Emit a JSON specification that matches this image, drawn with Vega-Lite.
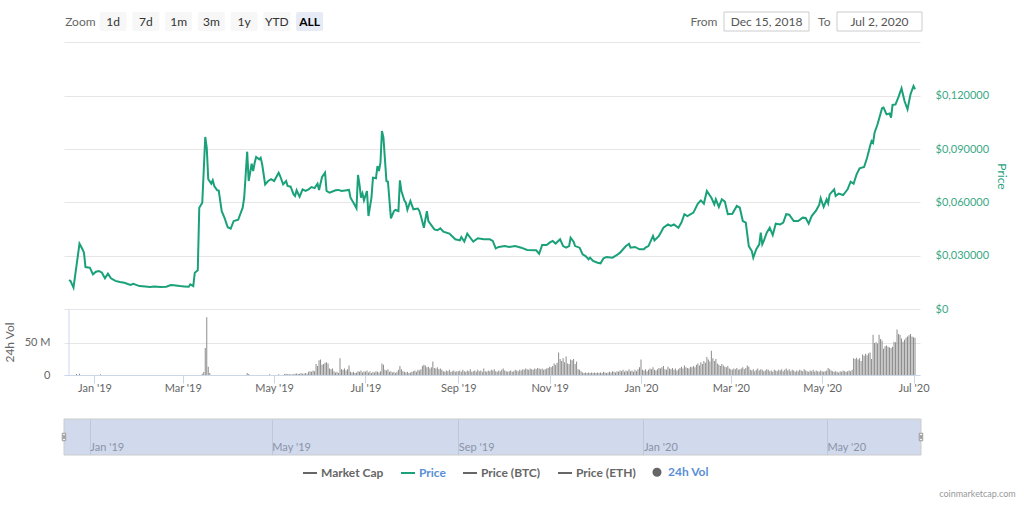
{
"$schema": "https://vega.github.io/schema/vega-lite/v6.json",
"background": "white",
"padding": {"left": 3, "top": 11, "right": 5, "bottom": 5},
"config": {"font": "Lato", "view": {"stroke": null}},
"datasets": {
"buttons": [
{"label":"Zoom","kind":"label"},{"label":"1d","kind":"button"},{"label":"7d","kind":"button"},{"label":"1m","kind":"button"},{"label":"3m","kind":"button"},{"label":"1y","kind":"button"},{"label":"YTD","kind":"button"},{"label":"ALL","kind":"active"}],
"inputs": [{"field":"From","value":"Dec 15, 2018"},{"field":"To","value":"Jul 2, 2020"}],
"range": [{"date":"2018-12-15","end":"2020-07-02"}],
"leftedge": [{"date":"2018-12-15"}],
"handles": [{"date":"2018-12-15"},{"date":"2020-07-02"}],
"price": [
{"date":"2018-12-15","price":0.0163},{"date":"2018-12-16","price":0.0158},{"date":"2018-12-18","price":0.0120},{"date":"2018-12-22","price":0.0367},{"date":"2018-12-24","price":0.0336},{"date":"2018-12-25","price":0.0317},{"date":"2018-12-26","price":0.0236},{"date":"2018-12-28","price":0.0234},{"date":"2018-12-29","price":0.0232},{"date":"2018-12-31","price":0.0195},
{"date":"2019-01-02","price":0.0210},{"date":"2019-01-04","price":0.0214},{"date":"2019-01-06","price":0.0204},{"date":"2019-01-08","price":0.0173},{"date":"2019-01-10","price":0.0199},{"date":"2019-01-12","price":0.0173},{"date":"2019-01-15","price":0.0158},{"date":"2019-01-18","price":0.0152},{"date":"2019-01-21","price":0.0148},{"date":"2019-01-25","price":0.0135},{"date":"2019-01-27","price":0.0142},{"date":"2019-01-31","price":0.0129},
{"date":"2019-02-04","price":0.0127},{"date":"2019-02-07","price":0.0124},{"date":"2019-02-10","price":0.0127},{"date":"2019-02-14","price":0.0124},{"date":"2019-02-18","price":0.0125},{"date":"2019-02-21","price":0.0135},{"date":"2019-02-23","price":0.0133},{"date":"2019-02-27","price":0.0129},
{"date":"2019-03-02","price":0.0127},{"date":"2019-03-05","price":0.0125},{"date":"2019-03-06","price":0.0139},{"date":"2019-03-08","price":0.0129},{"date":"2019-03-09","price":0.0204},{"date":"2019-03-11","price":0.0218},{"date":"2019-03-12","price":0.0570},{"date":"2019-03-14","price":0.0598},{"date":"2019-03-16","price":0.0968},{"date":"2019-03-17","price":0.0907},{"date":"2019-03-18","price":0.0730},{"date":"2019-03-20","price":0.0705},{"date":"2019-03-21","price":0.0724},{"date":"2019-03-22","price":0.0692},{"date":"2019-03-24","price":0.0668},{"date":"2019-03-25","price":0.0666},{"date":"2019-03-27","price":0.0550},{"date":"2019-03-29","price":0.0510},{"date":"2019-03-31","price":0.0460},
{"date":"2019-04-02","price":0.0452},{"date":"2019-04-04","price":0.0495},{"date":"2019-04-07","price":0.0502},{"date":"2019-04-10","price":0.0570},{"date":"2019-04-11","price":0.0626},{"date":"2019-04-13","price":0.0885},{"date":"2019-04-14","price":0.0720},{"date":"2019-04-16","price":0.0818},{"date":"2019-04-17","price":0.0776},{"date":"2019-04-18","price":0.0823},{"date":"2019-04-19","price":0.0855},{"date":"2019-04-21","price":0.0842},{"date":"2019-04-22","price":0.0851},{"date":"2019-04-23","price":0.0814},{"date":"2019-04-25","price":0.0701},{"date":"2019-04-27","price":0.0720},{"date":"2019-04-29","price":0.0730},
{"date":"2019-05-01","price":0.0720},{"date":"2019-05-04","price":0.0767},{"date":"2019-05-05","price":0.0748},{"date":"2019-05-07","price":0.0701},{"date":"2019-05-09","price":0.0720},{"date":"2019-05-10","price":0.0692},{"date":"2019-05-12","price":0.0688},{"date":"2019-05-14","price":0.0645},{"date":"2019-05-15","price":0.0636},{"date":"2019-05-16","price":0.0668},{"date":"2019-05-18","price":0.0632},{"date":"2019-05-20","price":0.0673},{"date":"2019-05-22","price":0.0664},{"date":"2019-05-24","price":0.0673},{"date":"2019-05-26","price":0.0686},{"date":"2019-05-28","price":0.0680},{"date":"2019-05-30","price":0.0705},{"date":"2019-05-31","price":0.0670},
{"date":"2019-06-02","price":0.0743},{"date":"2019-06-04","price":0.0767},{"date":"2019-06-05","price":0.0664},{"date":"2019-06-07","price":0.0654},{"date":"2019-06-11","price":0.0668},{"date":"2019-06-13","price":0.0670},{"date":"2019-06-15","price":0.0664},{"date":"2019-06-20","price":0.0670},{"date":"2019-06-21","price":0.0626},{"date":"2019-06-23","price":0.0598},{"date":"2019-06-25","price":0.0566},{"date":"2019-06-26","price":0.0754},{"date":"2019-06-27","price":0.0701},{"date":"2019-06-28","price":0.0626},{"date":"2019-06-29","price":0.0650},{"date":"2019-06-30","price":0.0611},
{"date":"2019-07-02","price":0.0664},{"date":"2019-07-03","price":0.0523},{"date":"2019-07-05","price":0.0626},{"date":"2019-07-06","price":0.0739},{"date":"2019-07-08","price":0.0735},{"date":"2019-07-09","price":0.0804},{"date":"2019-07-10","price":0.0776},{"date":"2019-07-11","price":0.0823},{"date":"2019-07-12","price":0.1001},{"date":"2019-07-13","price":0.0964},{"date":"2019-07-15","price":0.0720},{"date":"2019-07-16","price":0.0716},{"date":"2019-07-18","price":0.0510},{"date":"2019-07-20","price":0.0551},{"date":"2019-07-21","price":0.0557},{"date":"2019-07-23","price":0.0551},{"date":"2019-07-24","price":0.0724},{"date":"2019-07-25","price":0.0664},{"date":"2019-07-27","price":0.0610},{"date":"2019-07-28","price":0.0598},{"date":"2019-07-29","price":0.0558},{"date":"2019-07-31","price":0.0608},
{"date":"2019-08-02","price":0.0561},{"date":"2019-08-05","price":0.0565},{"date":"2019-08-06","price":0.0551},{"date":"2019-08-07","price":0.0523},{"date":"2019-08-09","price":0.0457},{"date":"2019-08-11","price":0.0551},{"date":"2019-08-12","price":0.0495},{"date":"2019-08-16","price":0.0448},{"date":"2019-08-18","price":0.0443},{"date":"2019-08-20","price":0.0454},{"date":"2019-08-22","price":0.0435},{"date":"2019-08-26","price":0.0424},{"date":"2019-08-30","price":0.0392},
{"date":"2019-09-02","price":0.0386},{"date":"2019-09-03","price":0.0405},{"date":"2019-09-05","price":0.0379},{"date":"2019-09-07","price":0.0424},{"date":"2019-09-09","price":0.0401},{"date":"2019-09-11","price":0.0379},{"date":"2019-09-14","price":0.0398},{"date":"2019-09-18","price":0.0392},{"date":"2019-09-22","price":0.0392},{"date":"2019-09-24","price":0.0383},{"date":"2019-09-26","price":0.0341},{"date":"2019-09-28","price":0.0349},
{"date":"2019-10-02","price":0.0354},{"date":"2019-10-05","price":0.0349},{"date":"2019-10-09","price":0.0354},{"date":"2019-10-13","price":0.0345},{"date":"2019-10-17","price":0.0332},{"date":"2019-10-23","price":0.0330},{"date":"2019-10-25","price":0.0311},{"date":"2019-10-27","price":0.0360},{"date":"2019-10-30","price":0.0360},
{"date":"2019-11-01","price":0.0373},{"date":"2019-11-03","price":0.0383},{"date":"2019-11-05","price":0.0368},{"date":"2019-11-08","price":0.0392},{"date":"2019-11-10","price":0.0354},{"date":"2019-11-12","price":0.0345},{"date":"2019-11-14","price":0.0354},{"date":"2019-11-15","price":0.0401},{"date":"2019-11-17","price":0.0379},{"date":"2019-11-18","price":0.0354},{"date":"2019-11-21","price":0.0345},{"date":"2019-11-23","price":0.0308},{"date":"2019-11-25","price":0.0298},{"date":"2019-11-27","price":0.0280},{"date":"2019-11-28","price":0.0289},{"date":"2019-11-30","price":0.0270},
{"date":"2019-12-03","price":0.0260},{"date":"2019-12-05","price":0.0257},{"date":"2019-12-07","price":0.0285},{"date":"2019-12-09","price":0.0293},{"date":"2019-12-13","price":0.0289},{"date":"2019-12-16","price":0.0304},{"date":"2019-12-18","price":0.0317},{"date":"2019-12-20","price":0.0336},{"date":"2019-12-22","price":0.0354},{"date":"2019-12-24","price":0.0367},{"date":"2019-12-25","price":0.0345},{"date":"2019-12-28","price":0.0349},{"date":"2019-12-31","price":0.0336},
{"date":"2020-01-03","price":0.0336},{"date":"2020-01-04","price":0.0345},{"date":"2020-01-06","price":0.0354},{"date":"2020-01-09","price":0.0411},{"date":"2020-01-10","price":0.0386},{"date":"2020-01-13","price":0.0411},{"date":"2020-01-16","price":0.0457},{"date":"2020-01-19","price":0.0476},{"date":"2020-01-21","price":0.0467},{"date":"2020-01-23","price":0.0476},{"date":"2020-01-26","price":0.0457},{"date":"2020-01-28","price":0.0486},{"date":"2020-01-30","price":0.0533},
{"date":"2020-02-01","price":0.0523},{"date":"2020-02-05","price":0.0542},{"date":"2020-02-08","price":0.0593},{"date":"2020-02-10","price":0.0611},{"date":"2020-02-12","price":0.0593},{"date":"2020-02-14","price":0.0664},{"date":"2020-02-17","price":0.0626},{"date":"2020-02-19","price":0.0589},{"date":"2020-02-20","price":0.0617},{"date":"2020-02-22","price":0.0574},{"date":"2020-02-24","price":0.0617},{"date":"2020-02-26","price":0.0604},{"date":"2020-02-28","price":0.0533},
{"date":"2020-03-02","price":0.0536},{"date":"2020-03-05","price":0.0580},{"date":"2020-03-07","price":0.0570},{"date":"2020-03-09","price":0.0495},{"date":"2020-03-11","price":0.0486},{"date":"2020-03-13","price":0.0354},{"date":"2020-03-15","price":0.0326},{"date":"2020-03-16","price":0.0289},{"date":"2020-03-18","price":0.0336},{"date":"2020-03-20","price":0.0364},{"date":"2020-03-21","price":0.0429},{"date":"2020-03-22","price":0.0364},{"date":"2020-03-23","price":0.0383},{"date":"2020-03-25","price":0.0429},{"date":"2020-03-27","price":0.0457},{"date":"2020-03-29","price":0.0416},{"date":"2020-03-31","price":0.0480},
{"date":"2020-04-03","price":0.0476},{"date":"2020-04-05","price":0.0486},{"date":"2020-04-07","price":0.0533},{"date":"2020-04-09","price":0.0530},{"date":"2020-04-12","price":0.0495},{"date":"2020-04-15","price":0.0495},{"date":"2020-04-18","price":0.0514},{"date":"2020-04-20","price":0.0512},{"date":"2020-04-22","price":0.0480},{"date":"2020-04-24","price":0.0523},{"date":"2020-04-27","price":0.0555},{"date":"2020-04-29","price":0.0585},{"date":"2020-04-30","price":0.0623},
{"date":"2020-05-02","price":0.0574},{"date":"2020-05-04","price":0.0617},{"date":"2020-05-05","price":0.0595},{"date":"2020-05-06","price":0.0645},{"date":"2020-05-09","price":0.0673},{"date":"2020-05-10","price":0.0636},{"date":"2020-05-12","price":0.0649},{"date":"2020-05-15","price":0.0641},{"date":"2020-05-18","price":0.0673},{"date":"2020-05-20","price":0.0716},{"date":"2020-05-22","price":0.0705},{"date":"2020-05-24","price":0.0758},{"date":"2020-05-26","price":0.0791},{"date":"2020-05-29","price":0.0799},{"date":"2020-05-31","price":0.0851},
{"date":"2020-06-02","price":0.0917},{"date":"2020-06-03","price":0.0945},{"date":"2020-06-04","price":0.0935},{"date":"2020-06-05","price":0.0992},{"date":"2020-06-07","price":0.1039},{"date":"2020-06-10","price":0.1129},{"date":"2020-06-11","price":0.1133},{"date":"2020-06-13","price":0.1095},{"date":"2020-06-15","price":0.1100},{"date":"2020-06-16","price":0.1076},{"date":"2020-06-17","price":0.1148},{"date":"2020-06-19","price":0.1151},{"date":"2020-06-21","price":0.1193},{"date":"2020-06-23","price":0.1241},{"date":"2020-06-25","price":0.1170},{"date":"2020-06-27","price":0.1123},{"date":"2020-06-29","price":0.1208},{"date":"2020-07-01","price":0.1254},{"date":"2020-07-02","price":0.1236}
],
"volume": [
{"date":"2018-12-20","vol_m":1.5},{"date":"2018-12-22","vol_m":2},{"date":"2019-01-05","vol_m":1.2},{"date":"2019-03-14","vol_m":2},{"date":"2019-03-15","vol_m":4.5},{"date":"2019-03-16","vol_m":42},{"date":"2019-03-17","vol_m":90},{"date":"2019-03-18","vol_m":13},{"date":"2019-03-19","vol_m":3},{"date":"2019-04-13","vol_m":3},{"date":"2019-04-14","vol_m":1.5},{"date":"2019-04-28","vol_m":1},{"date":"2019-05-04","vol_m":1},
{"date":"2019-05-08","vol_m":1.5},{"date":"2019-05-09","vol_m":2},{"date":"2019-05-10","vol_m":1},{"date":"2019-05-11","vol_m":1.5},{"date":"2019-05-12","vol_m":0.8},{"date":"2019-05-13","vol_m":1},{"date":"2019-05-14","vol_m":1.2},{"date":"2019-05-15","vol_m":2},{"date":"2019-05-16","vol_m":2.5},{"date":"2019-05-17","vol_m":1.5},{"date":"2019-05-18","vol_m":2},{"date":"2019-05-19","vol_m":3},{"date":"2019-05-20","vol_m":2},{"date":"2019-05-21","vol_m":2.5},{"date":"2019-05-22","vol_m":3},{"date":"2019-05-23","vol_m":2},{"date":"2019-05-24","vol_m":5},{"date":"2019-05-25","vol_m":6},{"date":"2019-05-26","vol_m":5},{"date":"2019-05-27","vol_m":7},{"date":"2019-05-28","vol_m":6},{"date":"2019-05-29","vol_m":17},{"date":"2019-05-30","vol_m":14},{"date":"2019-05-31","vol_m":23},
{"date":"2019-06-01","vol_m":24},{"date":"2019-06-02","vol_m":16},{"date":"2019-06-03","vol_m":17},{"date":"2019-06-04","vol_m":19},{"date":"2019-06-05","vol_m":20},{"date":"2019-06-06","vol_m":18},{"date":"2019-06-07","vol_m":10},{"date":"2019-06-08","vol_m":9},{"date":"2019-06-09","vol_m":10},{"date":"2019-06-10","vol_m":6},{"date":"2019-06-11","vol_m":4},{"date":"2019-06-12","vol_m":5},{"date":"2019-06-13","vol_m":3},{"date":"2019-06-14","vol_m":26},{"date":"2019-06-15","vol_m":9},{"date":"2019-06-16","vol_m":8},{"date":"2019-06-17","vol_m":10},{"date":"2019-06-18","vol_m":7},{"date":"2019-06-19","vol_m":9},{"date":"2019-06-20","vol_m":15},{"date":"2019-06-21","vol_m":5},{"date":"2019-06-22","vol_m":4},{"date":"2019-06-23","vol_m":5},{"date":"2019-06-24","vol_m":3},{"date":"2019-06-25","vol_m":4},{"date":"2019-06-26","vol_m":6},{"date":"2019-06-27","vol_m":5},{"date":"2019-06-28","vol_m":7},{"date":"2019-06-29","vol_m":4},{"date":"2019-06-30","vol_m":6},
{"date":"2019-07-01","vol_m":5},{"date":"2019-07-02","vol_m":7},{"date":"2019-07-03","vol_m":4},{"date":"2019-07-04","vol_m":6},{"date":"2019-07-05","vol_m":3},{"date":"2019-07-06","vol_m":5},{"date":"2019-07-07","vol_m":4},{"date":"2019-07-08","vol_m":6},{"date":"2019-07-09","vol_m":5},{"date":"2019-07-10","vol_m":4},{"date":"2019-07-11","vol_m":6},{"date":"2019-07-12","vol_m":18},{"date":"2019-07-13","vol_m":16},{"date":"2019-07-14","vol_m":8},{"date":"2019-07-15","vol_m":7},{"date":"2019-07-16","vol_m":9},{"date":"2019-07-17","vol_m":5},{"date":"2019-07-18","vol_m":6},{"date":"2019-07-19","vol_m":4},{"date":"2019-07-20","vol_m":5},{"date":"2019-07-21","vol_m":3},{"date":"2019-07-22","vol_m":5},{"date":"2019-07-23","vol_m":8},{"date":"2019-07-24","vol_m":14},{"date":"2019-07-25","vol_m":9},{"date":"2019-07-26","vol_m":6},{"date":"2019-07-27","vol_m":5},{"date":"2019-07-28","vol_m":4},{"date":"2019-07-29","vol_m":5},{"date":"2019-07-30","vol_m":3},{"date":"2019-07-31","vol_m":4},
{"date":"2019-08-01","vol_m":5},{"date":"2019-08-02","vol_m":6},{"date":"2019-08-03","vol_m":7},{"date":"2019-08-04","vol_m":5},{"date":"2019-08-05","vol_m":8},{"date":"2019-08-06","vol_m":7},{"date":"2019-08-07","vol_m":9},{"date":"2019-08-08","vol_m":14},{"date":"2019-08-09","vol_m":16},{"date":"2019-08-10","vol_m":15},{"date":"2019-08-11","vol_m":12},{"date":"2019-08-12","vol_m":13},{"date":"2019-08-13","vol_m":10},{"date":"2019-08-14","vol_m":12},{"date":"2019-08-15","vol_m":21},{"date":"2019-08-16","vol_m":11},{"date":"2019-08-17","vol_m":10},{"date":"2019-08-18","vol_m":12},{"date":"2019-08-19","vol_m":9},{"date":"2019-08-20","vol_m":10},{"date":"2019-08-21","vol_m":8},{"date":"2019-08-22","vol_m":6},{"date":"2019-08-23","vol_m":5},{"date":"2019-08-24","vol_m":7},{"date":"2019-08-25","vol_m":6},{"date":"2019-08-26","vol_m":8},{"date":"2019-08-27","vol_m":5},{"date":"2019-08-28","vol_m":6},{"date":"2019-08-29","vol_m":7},{"date":"2019-08-30","vol_m":5},{"date":"2019-08-31","vol_m":6},
{"date":"2019-09-01","vol_m":6},{"date":"2019-09-02","vol_m":7},{"date":"2019-09-03","vol_m":5},{"date":"2019-09-04","vol_m":8},{"date":"2019-09-05","vol_m":6},{"date":"2019-09-06","vol_m":5},{"date":"2019-09-07","vol_m":7},{"date":"2019-09-08","vol_m":6},{"date":"2019-09-09","vol_m":9},{"date":"2019-09-10","vol_m":5},{"date":"2019-09-11","vol_m":6},{"date":"2019-09-12","vol_m":7},{"date":"2019-09-13","vol_m":5},{"date":"2019-09-14","vol_m":8},{"date":"2019-09-15","vol_m":6},{"date":"2019-09-16","vol_m":7},{"date":"2019-09-17","vol_m":5},{"date":"2019-09-18","vol_m":10},{"date":"2019-09-19","vol_m":6},{"date":"2019-09-20","vol_m":5},{"date":"2019-09-21","vol_m":7},{"date":"2019-09-22","vol_m":6},{"date":"2019-09-23","vol_m":8},{"date":"2019-09-24","vol_m":7},{"date":"2019-09-25","vol_m":9},{"date":"2019-09-26","vol_m":6},{"date":"2019-09-27","vol_m":5},{"date":"2019-09-28","vol_m":7},{"date":"2019-09-29","vol_m":6},{"date":"2019-09-30","vol_m":8},
{"date":"2019-10-01","vol_m":10},{"date":"2019-10-02","vol_m":7},{"date":"2019-10-03","vol_m":6},{"date":"2019-10-04","vol_m":5},{"date":"2019-10-05","vol_m":6},{"date":"2019-10-06","vol_m":7},{"date":"2019-10-07","vol_m":5},{"date":"2019-10-08","vol_m":6},{"date":"2019-10-09","vol_m":8},{"date":"2019-10-10","vol_m":7},{"date":"2019-10-11","vol_m":6},{"date":"2019-10-12","vol_m":8},{"date":"2019-10-13","vol_m":7},{"date":"2019-10-14","vol_m":9},{"date":"2019-10-15","vol_m":8},{"date":"2019-10-16","vol_m":10},{"date":"2019-10-17","vol_m":9},{"date":"2019-10-18","vol_m":8},{"date":"2019-10-19","vol_m":10},{"date":"2019-10-20","vol_m":9},{"date":"2019-10-21","vol_m":8},{"date":"2019-10-22","vol_m":10},{"date":"2019-10-23","vol_m":9},{"date":"2019-10-24","vol_m":11},{"date":"2019-10-25","vol_m":10},{"date":"2019-10-26","vol_m":9},{"date":"2019-10-27","vol_m":10},{"date":"2019-10-28","vol_m":8},{"date":"2019-10-29","vol_m":9},{"date":"2019-10-30","vol_m":10},{"date":"2019-10-31","vol_m":11},
{"date":"2019-11-01","vol_m":13},{"date":"2019-11-02","vol_m":12},{"date":"2019-11-03","vol_m":14},{"date":"2019-11-04","vol_m":18},{"date":"2019-11-05","vol_m":16},{"date":"2019-11-06","vol_m":19},{"date":"2019-11-07","vol_m":35},{"date":"2019-11-08","vol_m":25},{"date":"2019-11-09","vol_m":22},{"date":"2019-11-10","vol_m":26},{"date":"2019-11-11","vol_m":20},{"date":"2019-11-12","vol_m":29},{"date":"2019-11-13","vol_m":18},{"date":"2019-11-14","vol_m":17},{"date":"2019-11-15","vol_m":24},{"date":"2019-11-16","vol_m":23},{"date":"2019-11-17","vol_m":25},{"date":"2019-11-18","vol_m":17},{"date":"2019-11-19","vol_m":21},{"date":"2019-11-20","vol_m":9},{"date":"2019-11-21","vol_m":8},{"date":"2019-11-22","vol_m":6},{"date":"2019-11-23","vol_m":4},{"date":"2019-11-24","vol_m":3},{"date":"2019-11-25","vol_m":4},{"date":"2019-11-26","vol_m":3},{"date":"2019-11-27","vol_m":4},{"date":"2019-11-28","vol_m":3},{"date":"2019-11-29","vol_m":4},{"date":"2019-11-30","vol_m":3},
{"date":"2019-12-01","vol_m":4},{"date":"2019-12-02","vol_m":3},{"date":"2019-12-03","vol_m":4},{"date":"2019-12-04","vol_m":3},{"date":"2019-12-05","vol_m":4},{"date":"2019-12-06","vol_m":3},{"date":"2019-12-07","vol_m":5},{"date":"2019-12-08","vol_m":4},{"date":"2019-12-09","vol_m":3},{"date":"2019-12-10","vol_m":4},{"date":"2019-12-11","vol_m":5},{"date":"2019-12-12","vol_m":4},{"date":"2019-12-13","vol_m":6},{"date":"2019-12-14","vol_m":5},{"date":"2019-12-15","vol_m":4},{"date":"2019-12-16","vol_m":6},{"date":"2019-12-17","vol_m":5},{"date":"2019-12-18","vol_m":7},{"date":"2019-12-19","vol_m":6},{"date":"2019-12-20","vol_m":8},{"date":"2019-12-21","vol_m":5},{"date":"2019-12-22","vol_m":7},{"date":"2019-12-23","vol_m":6},{"date":"2019-12-24","vol_m":9},{"date":"2019-12-25","vol_m":6},{"date":"2019-12-26","vol_m":7},{"date":"2019-12-27","vol_m":5},{"date":"2019-12-28","vol_m":8},{"date":"2019-12-29","vol_m":6},{"date":"2019-12-30","vol_m":9},{"date":"2019-12-31","vol_m":12},
{"date":"2020-01-01","vol_m":24},{"date":"2020-01-02","vol_m":8},{"date":"2020-01-03","vol_m":7},{"date":"2020-01-04","vol_m":9},{"date":"2020-01-05","vol_m":6},{"date":"2020-01-06","vol_m":8},{"date":"2020-01-07","vol_m":10},{"date":"2020-01-08","vol_m":9},{"date":"2020-01-09","vol_m":12},{"date":"2020-01-10","vol_m":8},{"date":"2020-01-11","vol_m":7},{"date":"2020-01-12","vol_m":9},{"date":"2020-01-13","vol_m":11},{"date":"2020-01-14","vol_m":10},{"date":"2020-01-15","vol_m":12},{"date":"2020-01-16","vol_m":14},{"date":"2020-01-17","vol_m":9},{"date":"2020-01-18","vol_m":8},{"date":"2020-01-19","vol_m":13},{"date":"2020-01-20","vol_m":10},{"date":"2020-01-21","vol_m":9},{"date":"2020-01-22","vol_m":11},{"date":"2020-01-23","vol_m":8},{"date":"2020-01-24","vol_m":10},{"date":"2020-01-25","vol_m":7},{"date":"2020-01-26","vol_m":9},{"date":"2020-01-27","vol_m":11},{"date":"2020-01-28","vol_m":13},{"date":"2020-01-29","vol_m":10},{"date":"2020-01-30","vol_m":15},{"date":"2020-01-31","vol_m":12},
{"date":"2020-02-01","vol_m":11},{"date":"2020-02-02","vol_m":10},{"date":"2020-02-03","vol_m":13},{"date":"2020-02-04","vol_m":12},{"date":"2020-02-05","vol_m":14},{"date":"2020-02-06","vol_m":12},{"date":"2020-02-07","vol_m":16},{"date":"2020-02-08","vol_m":18},{"date":"2020-02-09","vol_m":15},{"date":"2020-02-10","vol_m":20},{"date":"2020-02-11","vol_m":17},{"date":"2020-02-12","vol_m":22},{"date":"2020-02-13","vol_m":19},{"date":"2020-02-14","vol_m":28},{"date":"2020-02-15","vol_m":24},{"date":"2020-02-16","vol_m":21},{"date":"2020-02-17","vol_m":38},{"date":"2020-02-18","vol_m":26},{"date":"2020-02-19","vol_m":22},{"date":"2020-02-20","vol_m":25},{"date":"2020-02-21","vol_m":18},{"date":"2020-02-22","vol_m":16},{"date":"2020-02-23","vol_m":14},{"date":"2020-02-24","vol_m":17},{"date":"2020-02-25","vol_m":15},{"date":"2020-02-26","vol_m":13},{"date":"2020-02-27","vol_m":12},{"date":"2020-02-28","vol_m":14},{"date":"2020-02-29","vol_m":10},
{"date":"2020-03-01","vol_m":9},{"date":"2020-03-02","vol_m":8},{"date":"2020-03-03","vol_m":10},{"date":"2020-03-04","vol_m":9},{"date":"2020-03-05","vol_m":11},{"date":"2020-03-06","vol_m":8},{"date":"2020-03-07","vol_m":9},{"date":"2020-03-08","vol_m":10},{"date":"2020-03-09","vol_m":12},{"date":"2020-03-10","vol_m":9},{"date":"2020-03-11","vol_m":11},{"date":"2020-03-12","vol_m":15},{"date":"2020-03-13","vol_m":13},{"date":"2020-03-14","vol_m":8},{"date":"2020-03-15","vol_m":7},{"date":"2020-03-16","vol_m":9},{"date":"2020-03-17","vol_m":6},{"date":"2020-03-18","vol_m":8},{"date":"2020-03-19","vol_m":10},{"date":"2020-03-20","vol_m":7},{"date":"2020-03-21","vol_m":9},{"date":"2020-03-22","vol_m":8},{"date":"2020-03-23","vol_m":6},{"date":"2020-03-24","vol_m":7},{"date":"2020-03-25","vol_m":9},{"date":"2020-03-26","vol_m":8},{"date":"2020-03-27","vol_m":6},{"date":"2020-03-28","vol_m":7},{"date":"2020-03-29","vol_m":5},{"date":"2020-03-30","vol_m":8},{"date":"2020-03-31","vol_m":7},
{"date":"2020-04-01","vol_m":6},{"date":"2020-04-02","vol_m":8},{"date":"2020-04-03","vol_m":7},{"date":"2020-04-04","vol_m":9},{"date":"2020-04-05","vol_m":6},{"date":"2020-04-06","vol_m":8},{"date":"2020-04-07","vol_m":10},{"date":"2020-04-08","vol_m":7},{"date":"2020-04-09","vol_m":9},{"date":"2020-04-10","vol_m":6},{"date":"2020-04-11","vol_m":8},{"date":"2020-04-12","vol_m":7},{"date":"2020-04-13","vol_m":5},{"date":"2020-04-14","vol_m":7},{"date":"2020-04-15","vol_m":6},{"date":"2020-04-16","vol_m":8},{"date":"2020-04-17","vol_m":7},{"date":"2020-04-18","vol_m":6},{"date":"2020-04-19","vol_m":9},{"date":"2020-04-20","vol_m":7},{"date":"2020-04-21","vol_m":6},{"date":"2020-04-22","vol_m":5},{"date":"2020-04-23","vol_m":7},{"date":"2020-04-24","vol_m":6},{"date":"2020-04-25","vol_m":8},{"date":"2020-04-26","vol_m":5},{"date":"2020-04-27","vol_m":7},{"date":"2020-04-28","vol_m":6},{"date":"2020-04-29","vol_m":5},{"date":"2020-04-30","vol_m":7},
{"date":"2020-05-01","vol_m":6},{"date":"2020-05-02","vol_m":5},{"date":"2020-05-03","vol_m":6},{"date":"2020-05-04","vol_m":7},{"date":"2020-05-05","vol_m":11},{"date":"2020-05-06","vol_m":9},{"date":"2020-05-07","vol_m":7},{"date":"2020-05-08","vol_m":6},{"date":"2020-05-09","vol_m":5},{"date":"2020-05-10","vol_m":6},{"date":"2020-05-11","vol_m":5},{"date":"2020-05-12","vol_m":4},{"date":"2020-05-13","vol_m":6},{"date":"2020-05-14","vol_m":5},{"date":"2020-05-15","vol_m":7},{"date":"2020-05-16","vol_m":6},{"date":"2020-05-17","vol_m":5},{"date":"2020-05-18","vol_m":6},{"date":"2020-05-19","vol_m":7},{"date":"2020-05-20","vol_m":6},{"date":"2020-05-21","vol_m":8},{"date":"2020-05-22","vol_m":26},{"date":"2020-05-23","vol_m":25},{"date":"2020-05-24","vol_m":27},{"date":"2020-05-25","vol_m":24},{"date":"2020-05-26","vol_m":26},{"date":"2020-05-27","vol_m":22},{"date":"2020-05-28","vol_m":32},{"date":"2020-05-29","vol_m":30},{"date":"2020-05-30","vol_m":33},{"date":"2020-05-31","vol_m":31},
{"date":"2020-06-01","vol_m":34},{"date":"2020-06-02","vol_m":35},{"date":"2020-06-03","vol_m":25},{"date":"2020-06-04","vol_m":63},{"date":"2020-06-05","vol_m":50},{"date":"2020-06-06","vol_m":51},{"date":"2020-06-07","vol_m":49},{"date":"2020-06-08","vol_m":63},{"date":"2020-06-09","vol_m":56},{"date":"2020-06-10","vol_m":54},{"date":"2020-06-11","vol_m":41},{"date":"2020-06-12","vol_m":45},{"date":"2020-06-13","vol_m":46},{"date":"2020-06-14","vol_m":44},{"date":"2020-06-15","vol_m":43},{"date":"2020-06-16","vol_m":42},{"date":"2020-06-17","vol_m":44},{"date":"2020-06-18","vol_m":52},{"date":"2020-06-19","vol_m":51},{"date":"2020-06-20","vol_m":71},{"date":"2020-06-21","vol_m":64},{"date":"2020-06-22","vol_m":63},{"date":"2020-06-23","vol_m":57},{"date":"2020-06-24","vol_m":52},{"date":"2020-06-25","vol_m":55},{"date":"2020-06-26","vol_m":58},{"date":"2020-06-27","vol_m":60},{"date":"2020-06-28","vol_m":62},{"date":"2020-06-29","vol_m":64},{"date":"2020-06-30","vol_m":60},
{"date":"2020-07-01","vol_m":59},{"date":"2020-07-02","vol_m":58}
]
},
"resolve": {"scale": {"color": "independent", "fill": "independent"}, "legend": {"color": "independent", "fill": "independent"}},
"bounds": "flush",
"spacing": 11,
"vconcat": [
{
"width": 872, "height": 19,
"resolve": {"scale": {"x": "independent"}},
"layer": [
{
"data": {"name": "buttons"},
"encoding": {"x": {"field": "label", "type": "nominal", "sort": null, "axis": null, "scale": {"paddingInner": 0, "paddingOuter": 0, "range": [0, 262]}}},
"layer": [
{"mark": {"type": "bar", "width": 27, "cornerRadius": 2},
 "encoding": {"fill": {"field": "kind", "type": "nominal", "scale": {"domain": ["label", "button", "active"], "range": ["#ffffff", "#f7f7f7", "#e6ebf5"]}, "legend": null}}},
{"transform": [{"filter": "datum.kind !== 'active'"}],
 "mark": {"type": "text", "fontSize": 12},
 "encoding": {"text": {"field": "label"}, "color": {"field": "kind", "type": "nominal", "scale": {"domain": ["label", "button"], "range": ["#666666", "#333333"]}, "legend": null}}},
{"transform": [{"filter": "datum.kind === 'active'"}],
 "mark": {"type": "text", "fontSize": 12, "fontWeight": "bold", "color": "#000000"},
 "encoding": {"text": {"field": "label"}}}
]
},
{
"data": {"name": "inputs"},
"encoding": {"x": {"field": "field", "type": "nominal", "sort": null, "axis": null, "scale": {"paddingInner": 0, "paddingOuter": 0, "range": [646, 872]}}},
"layer": [
{"mark": {"type": "bar", "width": 85, "fill": "#ffffff", "stroke": "#cccccc", "strokeWidth": 1}},
{"mark": {"type": "text", "fontSize": 12, "color": "#555555"}, "encoding": {"text": {"field": "value"}}},
{"mark": {"type": "text", "fontSize": 12, "color": "#666666", "align": "right", "dx": -49}, "encoding": {"text": {"field": "field"}}}
]
}
]
},
{
"width": 856, "height": 333,
"encoding": {"x": {"field": "date", "type": "temporal",
 "scale": {"type": "utc", "domain": [{"year": 2018, "month": 12, "date": 15, "utc": true}, {"year": 2020, "month": 7, "date": 2, "utc": true}]},
 "axis": {"orient": "bottom", "format": "%b '%y", "tickCount": {"interval": "month", "step": 2}, "title": null,
  "labelColor": "#666666", "labelFontSize": 11, "labelPadding": -1, "labelFlush": false, "labelOverlap": false,
  "ticks": true, "tickColor": "#ccd6eb", "tickSize": 8, "domainColor": "#ccd6eb", "grid": false}}},
"resolve": {"scale": {"y": "independent"}, "axis": {"y": "independent"}},
"layer": [
{
"data": {"name": "price"},
"mark": {"type": "line", "strokeWidth": 2, "interpolate": "linear"},
"encoding": {
"y": {"field": "price", "type": "quantitative", "scale": {"domain": [-0.037125, 0.1502], "nice": false, "zero": false},
 "axis": {"orient": "right", "values": [0, 0.03, 0.06, 0.09, 0.12, 0.15],
  "labelExpr": "datum.value > 0.14 ? '' : datum.value === 0 ? '$0' : '$' + replace(format(datum.value, '.6f'), '.', ',')",
  "title": "Price", "titleColor": "#1f9f7c", "titleFontWeight": "normal", "titleFontSize": 12, "titlePadding": 6, "titleY": 134,
  "labelColor": "#3aa886", "labelFontSize": 11, "labelPadding": 15,
  "domain": false, "ticks": false, "grid": true, "gridColor": "#e6e6e6"}},
"color": {"datum": "Price",
 "scale": {"domain": ["Market Cap", "Price", "Price (BTC)", "Price (ETH)", "24h Vol"], "range": ["#666666", "#1aa179", "#666666", "#666666", "#666666"]},
 "legend": {"orient": "none", "legendX": 238, "legendY": 422, "direction": "horizontal", "title": null, "padding": 0,
  "labelFontSize": 12, "labelFontWeight": "bold", "labelColor": "#666666", "labelOffset": 3, "columnPadding": 13,
  "symbolType": "stroke", "symbolSize": 196, "symbolStrokeWidth": 2, "labelLimit": 300,
  "encode": {
   "labels": {"update": {"fill": {"signal": "datum.value === 'Price' || datum.value === '24h Vol' ? '#5a8ed6' : '#666666'"}}},
   "symbols": {"update": {
     "shape": {"signal": "datum.value === '24h Vol' ? 'circle' : 'stroke'"},
     "fill": {"signal": "datum.value === '24h Vol' ? '#666666' : 'transparent'"},
     "size": {"signal": "datum.value === '24h Vol' ? 50 : 196"}}}
  }}}
}
},
{
"layer": [
{
"data": {"name": "volume"},
"mark": {"type": "bar", "width": 1, "color": "#8c8c8c"},
"encoding": {
"y": {"field": "vol_m", "type": "quantitative", "scale": {"domain": [0, 519.7], "nice": false},
 "axis": {"orient": "left", "values": [0, 50], "labelExpr": "datum.value === 0 ? '0' : datum.value + ' M'",
  "title": "24h Vol", "titleColor": "#666666", "titleFontWeight": "normal", "titleFontSize": 12, "titlePadding": 8, "titleY": 300,
  "labelColor": "#666666", "labelFontSize": 11, "labelPadding": 14,
  "ticks": false, "domain": false, "grid": true, "gridColor": "#e6e6e6"}}
}
},
{
"data": {"name": "leftedge"},
"mark": {"type": "rule", "color": "#ccd6eb", "strokeWidth": 1},
"encoding": {
"y": {"datum": 0, "type": "quantitative"},
"y2": {"datum": 103}
}
}
]
}
]
},
{
"width": 857, "height": 69,
"title": {"text": "coinmarketcap.com", "orient": "bottom", "anchor": "end", "fontSize": 9, "fontWeight": "normal", "color": "#999999", "offset": 34, "dx": 91},
"encoding": {"x": {"field": "date", "type": "temporal",
 "scale": {"type": "utc", "domain": [{"year": 2018, "month": 12, "date": 15, "utc": true}, {"year": 2020, "month": 7, "date": 2, "utc": true}]},
 "axis": {"orient": "bottom", "offset": -36, "format": "%b '%y", "tickCount": {"interval": "month", "step": 4}, "title": null,
  "grid": false, "domain": false, "ticks": true, "tickSize": 36, "tickColor": "#e6e6e6", "zindex": 0,
  "labelAlign": "left", "labelBaseline": "middle", "labelPadding": -8, "labelDx": 2,
  "labelColor": "#999999", "labelFontSize": 11, "labelFlush": false, "labelOverlap": false, "labelBound": false}}},
"layer": [
{"data": {"name": "range"},
 "mark": {"type": "rect", "fill": "#6685c2", "fillOpacity": 0.3, "stroke": "#cccccc", "strokeWidth": 1},
 "encoding": {
  "x2": {"field": "end"},
  "y": {"datum": 0, "type": "quantitative", "scale": {"domain": [0, 1.9167], "nice": false}, "axis": null},
  "y2": {"datum": 1}}},
{"data": {"name": "handles"},
 "mark": {"type": "point", "shape": "M-0.23,-0.5H0.23V0.5H-0.23Z M-0.08,-0.25V0.25 M0.08,-0.25V0.25", "size": 225, "filled": true, "fill": "#f2f2f2", "stroke": "#999999", "strokeWidth": 1, "opacity": 1},
 "encoding": {
  "y": {"datum": 0.5, "type": "quantitative", "axis": null}}}
]
}
]
}
